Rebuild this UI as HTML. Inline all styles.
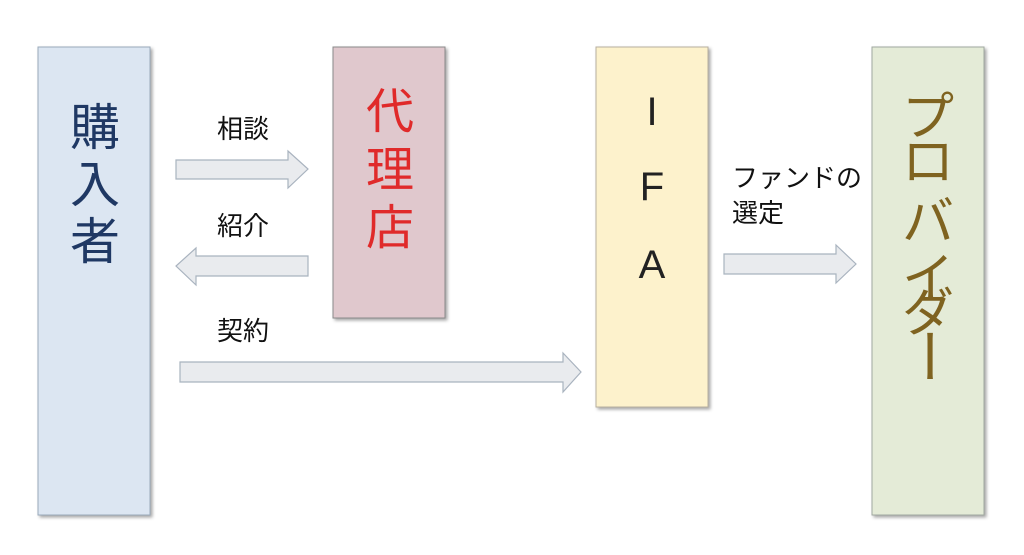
<!DOCTYPE html>
<html><head><meta charset="utf-8"><style>
html,body{margin:0;padding:0;background:#fff;}
svg{display:block}
text{font-family:"Liberation Sans","Noto Sans CJK JP",sans-serif;}
</style></head><body>
<svg width="1024" height="555" viewBox="0 0 1024 555">
<defs><filter id="s" x="-10%" y="-10%" width="130%" height="130%"><feDropShadow dx="2" dy="2" stdDeviation="1.5" flood-color="#000" flood-opacity="0.35"/></filter></defs>
<rect x="38" y="47" width="112" height="468" fill="#dce6f2" stroke="#9aaabb" stroke-width="1" filter="url(#s)"/>
<rect x="333" y="47" width="112" height="271" fill="#e0c8cd" stroke="#8a8a8a" stroke-width="1" filter="url(#s)"/>
<rect x="596" y="47" width="112" height="360" fill="#fdf2cc" stroke="#b8b0a0" stroke-width="1" filter="url(#s)"/>
<rect x="872" y="47" width="112" height="468" fill="#e4ebd7" stroke="#a0a8a0" stroke-width="1" filter="url(#s)"/>
<g font-size="50" fill="#1f3864" text-anchor="middle">
<text x="95" y="145">購</text><text x="95" y="202">入</text><text x="95" y="259">者</text></g>
<g font-size="48" fill="#e02a2a" text-anchor="middle">
<text x="390" y="128">代</text><text x="390" y="186">理</text><text x="390" y="244">店</text></g>
<g font-size="40" fill="#222" text-anchor="middle">
<text x="652" y="125">I</text><text x="652" y="200">F</text><text x="652" y="278">A</text></g>
<g font-size="52" fill="#7f6320" text-anchor="middle">
<text x="928" y="135">プ</text><text x="928" y="180">ロ</text><text x="928" y="240">バ</text><text x="928" y="296">イ</text><text x="928" y="331">ダ</text>
<text x="0" y="0" font-size="58" transform="translate(928,356) rotate(90)" dy="20">ー</text></g>
<g fill="#e9ebee" stroke="#a9b3bf" stroke-width="1.2">
<polygon points="176,160 288,160 288,151 308,169 288,188 288,179 176,179"/>
<polygon points="308,256 196,256 196,248 176,266 196,285 196,276 308,276"/>
<polygon points="180,362 563,362 563,353 581,372 563,392 563,382 180,382"/>
<polygon points="724,254 836,254 836,245 856,264 836,283 836,274 724,274"/>
</g>
<g font-size="26" fill="#111">
<text x="217" y="138">相談</text><text x="217" y="235">紹介</text><text x="217" y="340">契約</text>
<text x="732" y="187">ファンドの</text><text x="732" y="222">選定</text></g>
</svg>
</body></html>
